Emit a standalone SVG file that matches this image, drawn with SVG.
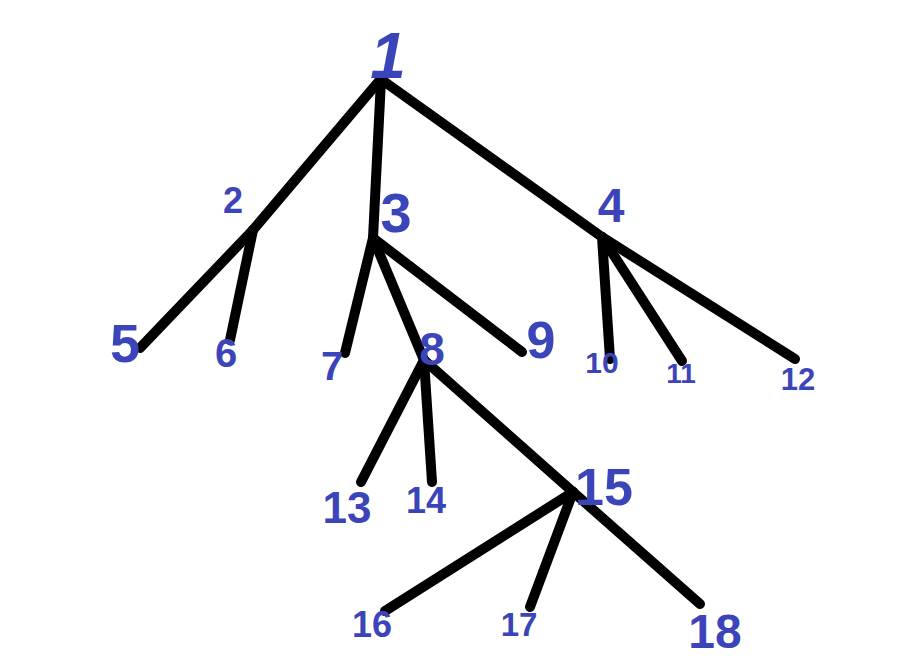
<svg xmlns="http://www.w3.org/2000/svg" width="897" height="672" viewBox="0 0 897 672">
<style>
.e{stroke:#000;stroke-width:10;stroke-linecap:round;fill:none}
.l{fill:#3b45b9;font-family:"Liberation Sans",Arial,sans-serif;text-anchor:middle;font-weight:bold}
</style>
<rect width="897" height="672" fill="#fff"/>
<g id="connectors">
<line class="e" x1="380" y1="80" x2="253" y2="230"/>
<line class="e" x1="381" y1="80" x2="373" y2="238"/>
<line class="e" x1="382" y1="80" x2="602" y2="237"/>
<line class="e" x1="253" y1="230" x2="140" y2="348"/>
<line class="e" x1="253" y1="230" x2="230" y2="340"/>
<line class="e" x1="373" y1="238" x2="345" y2="353"/>
<line class="e" x1="373" y1="238" x2="424" y2="360"/>
<line class="e" x1="373" y1="238" x2="522" y2="352"/>
<line class="e" x1="602" y1="237" x2="610" y2="359"/>
<line class="e" x1="602" y1="237" x2="682" y2="361"/>
<line class="e" x1="602" y1="237" x2="795" y2="359"/>
<line class="e" x1="424" y1="360" x2="361" y2="482"/>
<line class="e" x1="424" y1="360" x2="432" y2="482"/>
<line class="e" x1="424" y1="360" x2="573" y2="492"/>
<line class="e" x1="573" y1="492" x2="385" y2="611"/>
<line class="e" x1="573" y1="492" x2="530" y2="607"/>
<line class="e" x1="573" y1="492" x2="700" y2="604"/>
</g>
<g id="n1"><text class="l" x="388" y="78" font-size="64" font-style="italic" font-weight="normal">1</text></g>
<g id="n2"><text class="l" x="233" y="213" font-size="36">2</text></g>
<g id="n3"><text class="l" x="396" y="232" font-size="56">3</text></g>
<g id="n4"><text class="l" x="611" y="222" font-size="48">4</text></g>
<g id="n5"><text class="l" x="125" y="362" font-size="54">5</text></g>
<g id="n6"><text class="l" x="226" y="367" font-size="40">6</text></g>
<g id="n7"><text class="l" x="332" y="380" font-size="40">7</text></g>
<g id="n8"><text class="l" x="432" y="365" font-size="46">8</text></g>
<g id="n9"><text class="l" x="541" y="358" font-size="52">9</text></g>
<g id="n10"><text class="l" x="602" y="373" font-size="30">10</text></g>
<g id="n11"><text class="l" x="681" y="383" font-size="28">11</text></g>
<g id="n12"><text class="l" x="798" y="390" font-size="31">12</text></g>
<g id="n13"><text class="l" x="347" y="523" font-size="44">13</text></g>
<g id="n14"><text class="l" x="426" y="513" font-size="36">14</text></g>
<g id="n15"><text class="l" x="604" y="505" font-size="52">15</text></g>
<g id="n16"><text class="l" x="372" y="637" font-size="36">16</text></g>
<g id="n17"><text class="l" x="519" y="636" font-size="33">17</text></g>
<g id="n18"><text class="l" x="715" y="648" font-size="48">18</text></g>
</svg>
